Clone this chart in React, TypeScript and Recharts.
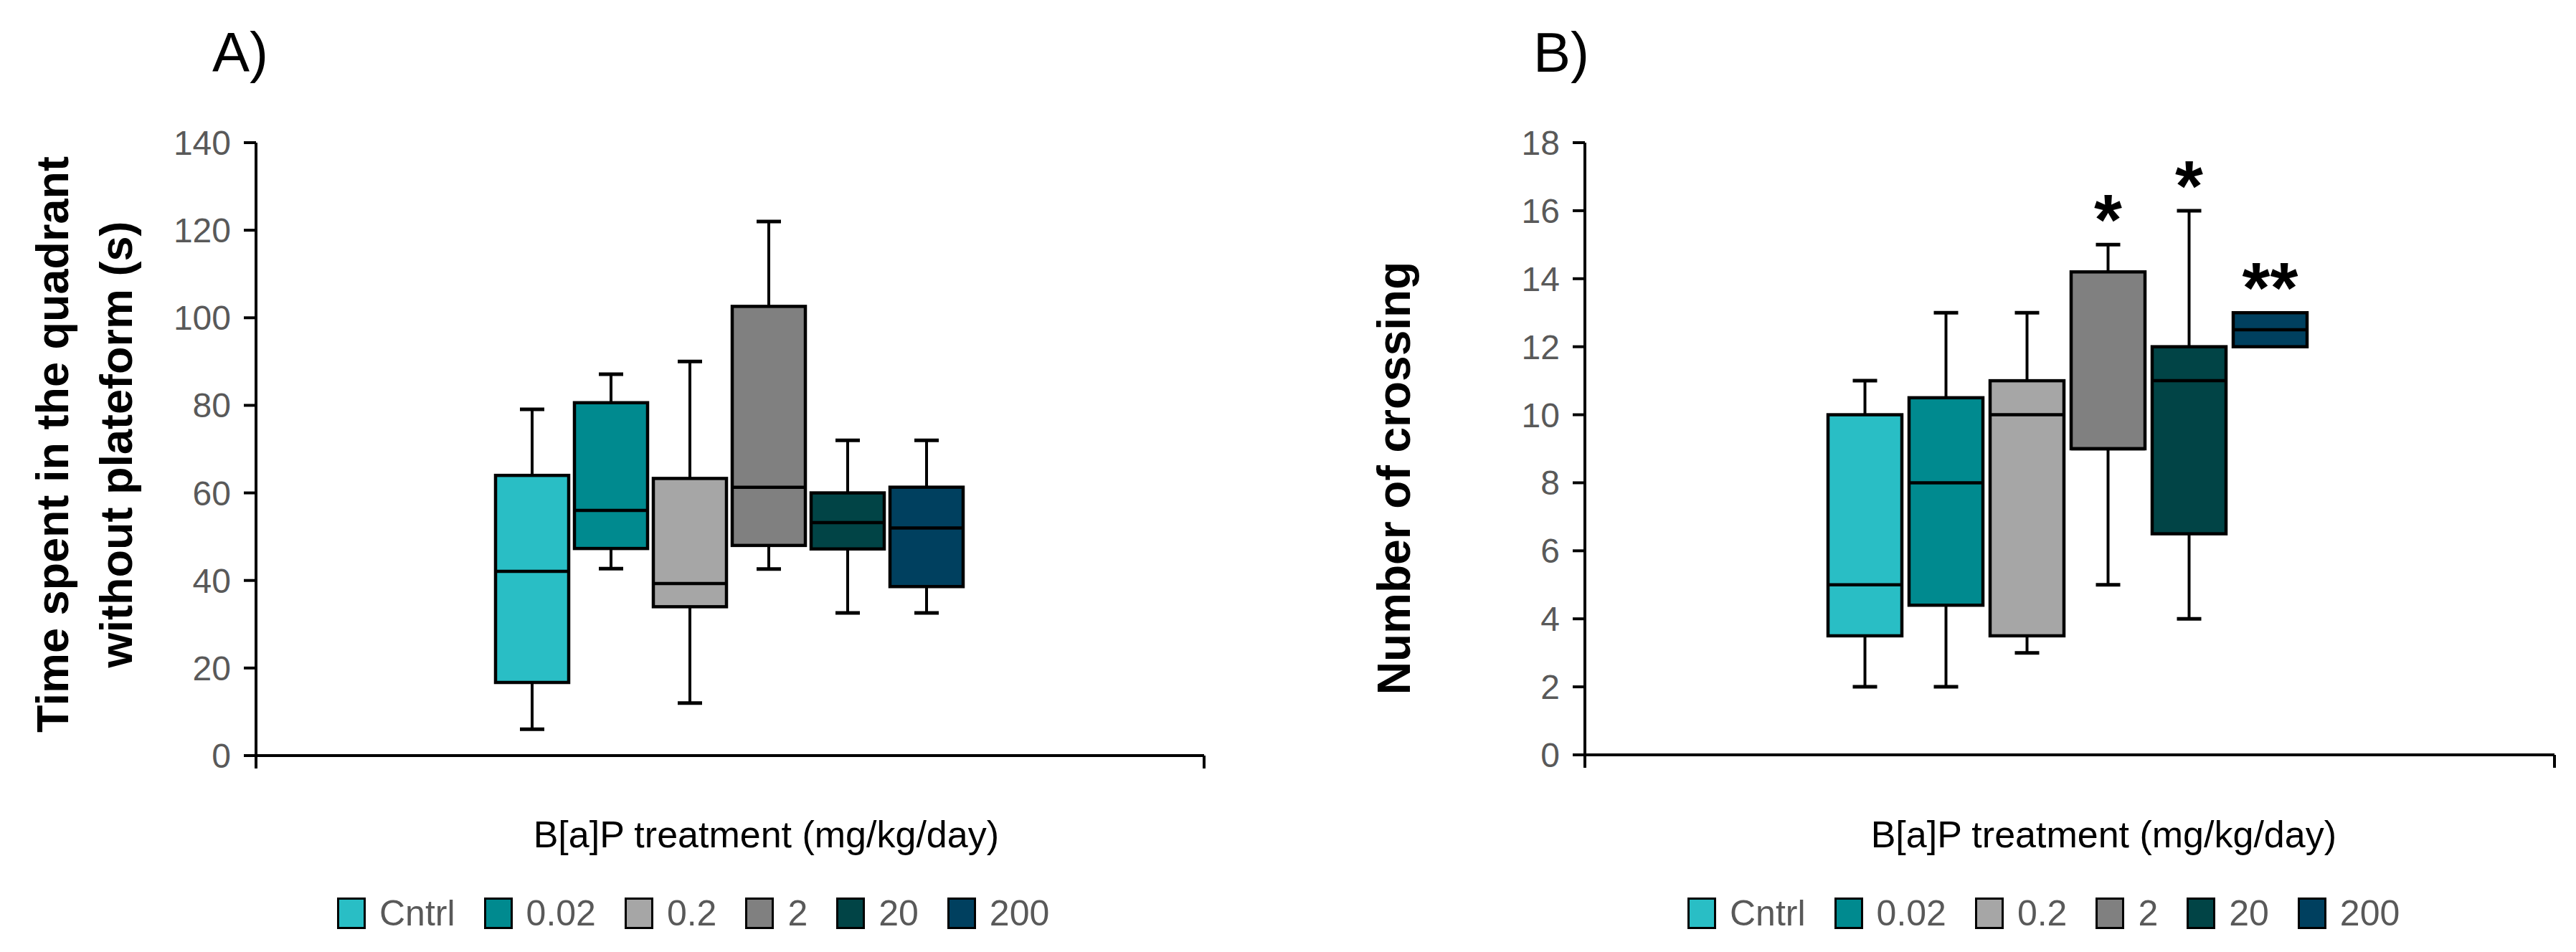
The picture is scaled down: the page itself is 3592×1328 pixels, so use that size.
/**
 * B[a]P box plots - time in quadrant and number of crossings
 */
import React from 'react';
import { ComposedChart, Bar, XAxis, YAxis, Legend } from 'recharts';

const FONT = "'Liberation Sans', Arial, sans-serif";

const groups = ['Cntrl', '0.02', '0.2', '2', '20', '200'];
const colors = ['#29bec5', '#008a8f', '#a6a6a6', '#808080', '#014446', '#00405f'];

// A) time spent in the quadrant without plateform (s)
const timeMin = [6, 42.7, 12, 42.6, 32.6, 32.6];
const timeQ1 = [16.7, 47.3, 34, 48, 47.2, 38.6];
const timeMedian = [42.1, 56, 39.3, 61.3, 53.2, 52];
const timeQ3 = [64, 80.6, 63.3, 102.6, 60, 61.3];
const timeMax = [79.1, 87.1, 90, 122, 72, 72];
const timeTicks = [0, 20, 40, 60, 80, 100, 120, 140];

// B) number of crossing
const crossMin = [2, 2, 3, 5, 4, 12];
const crossQ1 = [3.5, 4.4, 3.5, 9, 6.5, 12];
const crossMedian = [5, 8, 10, 9, 11, 12.5];
const crossQ3 = [10, 10.5, 11, 14.2, 12, 13];
const crossMax = [11, 13, 13, 15, 16, 13];
const crossSig = ['', '', '', '*', '*', '**'];
const crossTicks = [0, 2, 4, 6, 8, 10, 12, 14, 16, 18];

function buildRows(mins: number[], q1s: number[], meds: number[], q3s: number[], maxs: number[], sigs?: string[]) {
  return groups.map((g, i) => ({
    group: g,
    min: mins[i],
    q1: q1s[i],
    median: meds[i],
    q3: q3s[i],
    max: maxs[i],
    sig: sigs ? sigs[i] : '',
    color: colors[i],
    frame: i / (groups.length - 1),
  }));
}

const timeData = buildRows(timeMin, timeQ1, timeMedian, timeQ3, timeMax);
const crossData = buildRows(crossMin, crossQ1, crossMedian, crossQ3, crossMax, crossSig);

// box + whiskers drawn from the range bar [q1, q3] geometry
function BoxShape(props: any) {
  const { x, y, width, height } = props;
  const d = props.payload || props;
  if (d == null || d.q3 == null) return null;
  const top = Math.min(y, y + height);
  const h = Math.abs(height);
  const k = h / (d.q3 - d.q1);
  const py = (v: number) => top + (d.q3 - v) * k;
  const cx = x + width / 2;
  const cap = 17;
  return (
    <g>
      {d.max > d.q3 && (
        <g>
          <line x1={cx} x2={cx} y1={py(d.max)} y2={top} stroke="#000" strokeWidth={4} />
          <line x1={cx - cap} x2={cx + cap} y1={py(d.max)} y2={py(d.max)} stroke="#000" strokeWidth={5} />
        </g>
      )}
      {d.min < d.q1 && (
        <g>
          <line x1={cx} x2={cx} y1={top + h} y2={py(d.min)} stroke="#000" strokeWidth={4} />
          <line x1={cx - cap} x2={cx + cap} y1={py(d.min)} y2={py(d.min)} stroke="#000" strokeWidth={5} />
        </g>
      )}
      <rect x={x} y={top} width={width} height={h} fill={d.color} stroke="#000" strokeWidth={4.5} />
      <line x1={x} x2={x + width} y1={py(d.median)} y2={py(d.median)} stroke="#000" strokeWidth={4.5} />
      {d.sig && (
        <text x={cx} y={py(d.max)} textAnchor="middle" fontSize={100} fontWeight="bold" fontFamily={FONT} fill="#000">
          {d.sig}
        </text>
      )}
    </g>
  );
}

function LegendRow() {
  return (
    <div style={{ display: 'flex', alignItems: 'center', fontFamily: FONT, fontSize: 50, color: '#595959', lineHeight: '56px', whiteSpace: 'nowrap' }}>
      {groups.map((g, i) => (
        <div key={g} style={{ display: 'flex', alignItems: 'center', marginRight: 40 }}>
          <span style={{ display: 'inline-block', width: 40, height: 44, boxSizing: 'border-box', background: colors[i], border: '3px solid #000', marginRight: 19 }} />
          <span>{g}</span>
        </div>
      ))}
    </div>
  );
}

interface PanelProps {
  data: any[];
  ticks: number[];
  margin: { top: number; right: number; bottom: number; left: number };
  padding: { left: number; right: number };
  barSize: number;
  letter: string;
  letterX: number;
  titleLines: { text: string; x: number }[];
  titleY: number;
  titleSize: number;
  xTitleEnd: number;
  legendLeft: number;
}

function BoxPanel(p: PanelProps) {
  const yMax = p.ticks[p.ticks.length - 1];
  return (
    <ComposedChart width={1796} height={1328} data={p.data} margin={p.margin}>
      <XAxis xAxisId="cat" dataKey="group" type="category" hide height={0} padding={p.padding} />
      <XAxis
        xAxisId="frame"
        dataKey="frame"
        type="number"
        domain={[0, 1]}
        ticks={[0, 1]}
        allowDataOverflow
        tickFormatter={() => ''}
        tickSize={18}
        height={1}
        axisLine={{ stroke: '#000', strokeWidth: 4 }}
        tickLine={{ stroke: '#000', strokeWidth: 4 }}
        label={() => (
          <text x={p.xTitleEnd} y={1182} textAnchor="end" fontSize={52} fontFamily={FONT} fill="#000">
            B[a]P treatment (mg/kg/day)
          </text>
        )}
      />
      <YAxis
        type="number"
        domain={[0, yMax]}
        ticks={p.ticks}
        interval={0}
        width={1}
        tickSize={17}
        tickMargin={18}
        axisLine={{ stroke: '#000', strokeWidth: 4 }}
        tickLine={{ stroke: '#000', strokeWidth: 4 }}
        tick={{ fill: '#595959', fontSize: 48, fontFamily: FONT }}
        label={() => (
          <g>
            <text x={p.letterX} y={100} fontSize={78} fontFamily={FONT} fill="#000">
              {p.letter}
            </text>
            {p.titleLines.map((l) => (
              <text
                key={l.text}
                x={l.x}
                y={p.titleY}
                transform={`rotate(-90, ${l.x}, ${p.titleY})`}
                textAnchor="middle"
                fontSize={p.titleSize}
                fontWeight="bold"
                fontFamily={FONT}
                fill="#000"
              >
                {l.text}
              </text>
            ))}
          </g>
        )}
      />
      <Legend
        layout="vertical"
        verticalAlign="middle"
        align="center"
        wrapperStyle={{ left: p.legendLeft, top: 1246, width: 'auto', height: 'auto' }}
        content={() => <LegendRow />}
      />
      <Bar
        xAxisId="cat"
        dataKey={(d: any) => [d.q1, d.q3]}
        barSize={p.barSize}
        shape={BoxShape}
        isAnimationActive={false}
      />
    </ComposedChart>
  );
}

export default function App() {
  return (
    <div style={{ position: 'absolute', left: 0, top: 0, width: 3592, height: 1328, background: '#fff', overflow: 'hidden' }}>
      <div style={{ position: 'absolute', left: 0, top: 0 }}>
        <BoxPanel
          data={timeData}
          ticks={timeTicks}
          margin={{ top: 199, right: 117, bottom: 273, left: 356 }}
          padding={{ left: 330, right: 332 }}
          barSize={102}
          letter="A)"
          letterX={296}
          titleLines={[
            { text: 'Time spent in the quadrant', x: 95 },
            { text: 'without plateform (s)', x: 184 },
          ]}
          titleY={620}
          titleSize={63}
          xTitleEnd={1393}
          legendLeft={470}
        />
      </div>
      <div style={{ position: 'absolute', left: 1796, top: 0 }}>
        <BoxPanel
          data={crossData}
          ticks={crossTicks}
          margin={{ top: 199, right: 30, bottom: 274, left: 413 }}
          padding={{ left: 334, right: 340 }}
          barSize={103}
          letter="B)"
          letterX={342}
          titleLines={[{ text: 'Number of crossing', x: 170 }]}
          titleY={667}
          titleSize={64}
          xTitleEnd={1462}
          legendLeft={557}
        />
      </div>
    </div>
  );
}
